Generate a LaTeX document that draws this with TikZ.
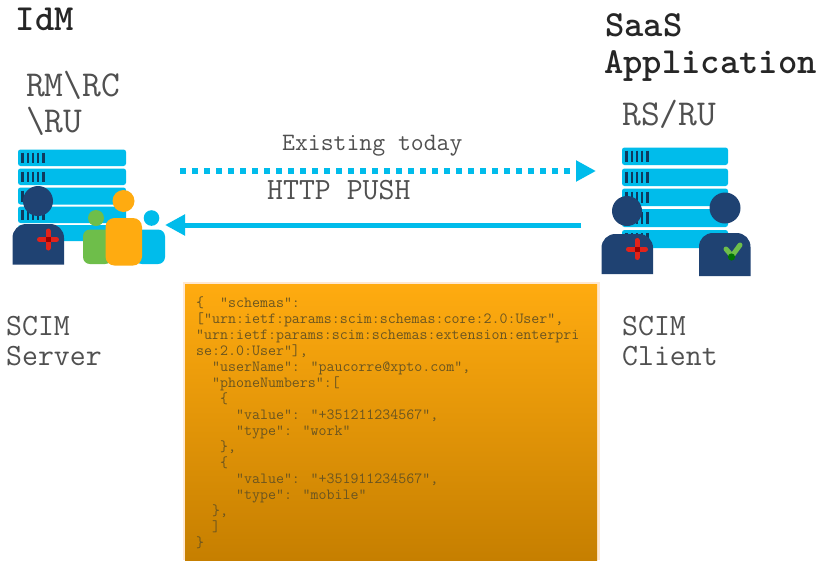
\documentclass[tikz,border=0pt]{standalone}
\usepackage{fontspec}
\usetikzlibrary{arrows.meta}
\definecolor{cyanbar}{HTML}{00BCEB}
\definecolor{navy}{HTML}{1F4272}
\definecolor{tick}{HTML}{0F3A5F}
\definecolor{txt}{HTML}{505050}
\definecolor{orangeA}{HTML}{FFAB10}
\definecolor{orangeB}{HTML}{C67F00}
\definecolor{jsontxt}{HTML}{6B5520}
\definecolor{grn}{HTML}{6EBE4A}
\definecolor{redc}{HTML}{E2231A}
\tikzset{
  lbl/.style={anchor=base west,inner sep=0pt,text=txt},
  head/.style={lbl,font=\ttfamily\bfseries\fontsize{36.8}{36.8}\selectfont,text=black!85},
  big/.style={lbl,font=\ttfamily\fontsize{36.5}{36.5}\selectfont},
  mid/.style={lbl,font=\ttfamily\fontsize{30.9}{30.9}\selectfont},
  small/.style={lbl,font=\ttfamily\fontsize{25}{25}\selectfont},
  bar/.style={fill=cyanbar,rounded corners=2.5pt,draw=none},
  tickmark/.style={draw=tick,line width=2.4pt},
  body/.style={fill=navy,draw=none},
  crossarm/.style={draw=redc,line width=5pt,line cap=round},
  flow/.style={draw=cyanbar,-{Triangle[length=20pt,width=20pt]}},
}
\newcommand{\srv}[4]{% x1,x2,y1,y2
  \fill[bar] (#1,#3) rectangle (#2,#4);
  \foreach \k in {0,1,2,3,4} \draw[tickmark] ({#1+4.5+\k*5.2},{#3+3}) -- ({#1+4.5+\k*5.2},{#4-3});
}
\newcommand{\person}[7]{% headx,heady,r,x1,x2,ytop,ybot with navy body
  \fill[body] (#4,#7) -- (#4,{#6+14}) .. controls (#4,{#6+6}) and ({#4+6},#6) .. ({#4+14},#6) -- ({#5-14},#6) .. controls ({#5-6},#6) and (#5,{#6+6}) .. (#5,{#6+14}) -- (#5,#7) -- cycle;
  \fill[navy] (#1,#2) circle (#3);
}
\newcommand{\redcross}[2]{%
  \draw[crossarm] ({#1-8.5},#2) -- ({#1+8.5},#2);
  \draw[crossarm] (#1,{#2-8.5}) -- (#1,{#2+8.5});
  \fill[red!60!black] ({#1-2.5},{#2-2.5}) rectangle ({#1+2.5},{#2+2.5});
}
\begin{document}
\begin{tikzpicture}[x=1pt,y=-1pt]
\useasboundingbox (0,0) rectangle (821,560);
\fill[white] (0,0) rectangle (821,560);

% titles
\node[head] (idm) at (15.5,30) {IdM};
\node[head] (saas) at (605,36) {SaaS};
\node[head] (app) at (604,73) {Application};
\node[big] (rmrc) at (26,96) {RM\textbackslash RC};
\node[big] (ru) at (26,132) {\textbackslash RU};
\node[big] (rsru) at (622,125) {RS/RU};

% left server
\srv{18}{126}{149.5}{166}
\srv{18}{126}{168.5}{185}
\srv{18}{126}{187.5}{204.5}
\srv{18}{126}{206.5}{223}
\srv{18}{126}{225}{241}
\person{38}{201}{15}{12.5}{64}{224}{264.5}
\redcross{48}{239.5}
% group of people
\fill[cyanbar,rounded corners=7pt] (135,229.5) rectangle (165,264);
\fill[cyanbar] (151.5,218) circle (7.8);
\fill[grn,rounded corners=7pt] (83,229.5) rectangle (112,264);
\fill[grn] (96,218) circle (8);
\fill[orangeA,rounded corners=9pt] (105.5,218) rectangle (142,265.5);
\fill[orangeA] (123.5,201) circle (11);

% right server
\srv{622}{728}{147.5}{165}
\srv{622}{728}{168.5}{186}
\srv{622}{728}{188.5}{206}
\srv{622}{728}{209}{227}
\srv{622}{728}{230}{248}
\person{627}{211}{15}{601.5}{653}{234}{274}
\redcross{637}{249}
\person{725}{208}{15.5}{699}{750.5}{233}{276}
\draw[grn,line width=5pt,line cap=round] (726,249) -- (732,256) -- (740,245);
\fill[green!45!black] (731.5,257) circle (3.6);

% connectors
\coordinate (pushA) at (180,171);
\coordinate (pushB) at (596,171);
\coordinate (httpA) at (581,225);
\coordinate (httpB) at (165,225);
\draw[flow,line width=6pt,dash pattern=on 6pt off 6pt] (pushA) -- (pushB);
\draw[flow,line width=5pt] (httpA) -- (httpB);
\node[small] (today) at (282,150) {Existing today};
\node[mid] (http) at (267,199) {HTTP PUSH};

% side labels
\node[mid] (scimL) at (6,335) {SCIM};
\node[mid] (server) at (6,365) {Server};
\node[mid] (scimR) at (622,335) {SCIM};
\node[mid] (client) at (622,365) {Client};

% payload box
\fill[orange!18!white] (182.5,282) rectangle (599.5,560);
\shade[top color=orangeA,bottom color=orangeB,draw=none] (185,284) rectangle (597,560);
\node[anchor=base west,inner sep=0pt,align=left,text=jsontxt,
  font=\ttfamily\fontsize{15.5}{16}\selectfont] (json) at (196,547) {%
\{\ \ "schemas":\\
{[}"urn:ietf:params:scim:schemas:core:2.0:User",\\
"urn:ietf:params:scim:schemas:extension:enterpri\\
se:2.0:User"],\\
\ \ "userName": "paucorre@xpto.com",\\
\ \ "phoneNumbers":[\\
\ \ \ \{\\
\ \ \ \ \ "value": "+351211234567",\\
\ \ \ \ \ "type": "work"\\
\ \ \ \},\\
\ \ \ \{\\
\ \ \ \ \ "value": "+351911234567",\\
\ \ \ \ \ "type": "mobile"\\
\ \ \},\\
\ \ ]\\
\}};
\end{tikzpicture}
\end{document}
